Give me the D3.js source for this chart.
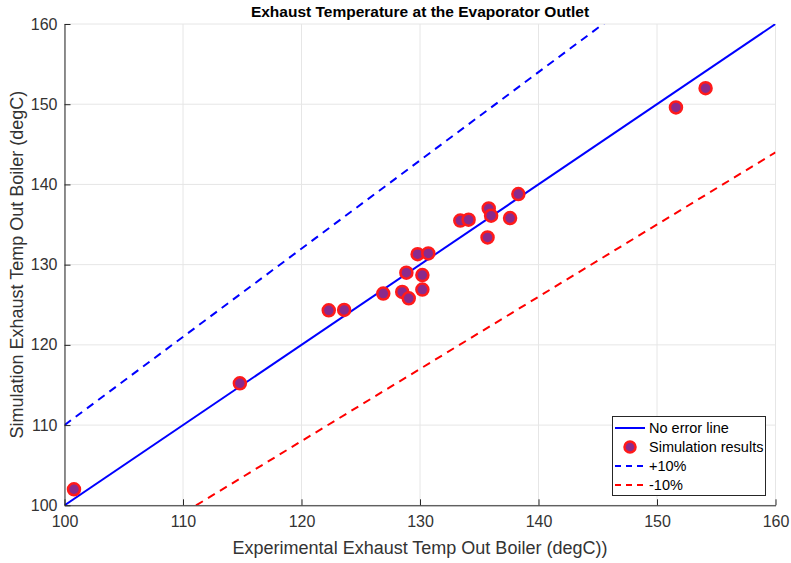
<!DOCTYPE html>
<html><head><meta charset="utf-8">
<script src="https://cdn.jsdelivr.net/npm/d3@7"></script>
<style>body{margin:0;background:#fff;font-family:Arial,"Liberation Sans",sans-serif;}</style>
</head><body>
<svg id="c" width="791" height="563"></svg>
<script>
const expTemp = [100.8,114.8,122.3,123.6,126.9,128.5,129.05,128.85,129.8,130.7,130.2,130.2,133.4,134.1,135.7,135.8,136.0,137.6,138.3,151.6,154.1];
const simTemp = [102.0,115.2,124.3,124.35,126.4,126.6,125.8,129.0,131.3,131.4,128.7,126.9,135.5,135.6,133.4,137.0,136.1,135.8,138.8,149.6,152.0];
const ticks = [100,110,120,130,140,150,160];
const lineDefs = [
  {name:"No error line", factor:1.0, color:"#0000ff", dash:null},
  {name:"+10%", factor:1.1, color:"#0000ff", dash:"8,6"},
  {name:"-10%", factor:0.9, color:"#ff0000", dash:"8,6"}
];
const svg = d3.select("#c");
const L=64.5, R=775.5, T=24, B=505.3;
const x = d3.scaleLinear().domain([100,160]).range([L,R]);
const y = d3.scaleLinear().domain([100,160]).range([B,T]);
const g = svg.append("g");
// grid
g.selectAll(".gx").data(ticks).enter().append("line")
 .attr("x1",d=>x(d)).attr("x2",d=>x(d)).attr("y1",T).attr("y2",B)
 .attr("stroke","#e6e6e6").attr("stroke-width",1);
g.selectAll(".gy").data(ticks).enter().append("line")
 .attr("y1",d=>y(d)).attr("y2",d=>y(d)).attr("x1",L).attr("x2",R)
 .attr("stroke","#e6e6e6").attr("stroke-width",1);
// clip
svg.append("clipPath").attr("id","clip").append("rect").attr("x",L).attr("y",T).attr("width",R-L).attr("height",B-T);
const lg = svg.append("g").attr("clip-path","url(#clip)");
lineDefs.forEach(l=>{
  const xs=[100,160];
  lg.append("path").attr("d",d3.line().x(d=>x(d)).y(d=>y(d*l.factor))(xs))
   .attr("stroke",l.color).attr("stroke-width",2).attr("fill","none")
   .attr("stroke-dasharray",l.dash);
});
// axes
const ax = svg.append("g").attr("transform",`translate(0,${B})`)
 .call(d3.axisBottom(x).tickValues(ticks).tickSizeInner(-6).tickSizeOuter(0).tickPadding(10));
const ay = svg.append("g").attr("transform",`translate(${L},0)`)
 .call(d3.axisLeft(y).tickValues(ticks).tickSizeInner(-6).tickSizeOuter(0).tickPadding(7));
[ax,ay].forEach(a=>{
  a.selectAll("path,line").attr("stroke","#262626");
  a.selectAll("text").attr("fill","#333").style("font-size","16px").style("font-family","Arial,'Liberation Sans',sans-serif");
});
// points
svg.append("g").selectAll("circle").data(expTemp.map((e,i)=>[e,simTemp[i]])).enter().append("circle")
 .attr("cx",d=>x(d[0])).attr("cy",d=>y(d[1])).attr("r",6)
 .attr("fill","#8a2a8c").attr("stroke","#ff1a1a").attr("stroke-width",2.5);
// title & labels
svg.append("text").attr("x",(L+R)/2).attr("y",17).attr("text-anchor","middle")
 .style("font-weight","bold").style("font-size","15.5px").attr("fill","#000")
 .text("Exhaust Temperature at the Evaporator Outlet");
svg.append("text").attr("x",(L+R)/2).attr("y",554).attr("text-anchor","middle")
 .style("font-size","18px").attr("fill","#333").text("Experimental Exhaust Temp Out Boiler (degC))");
svg.append("text").attr("transform",`translate(23,${(T+B)/2}) rotate(-90)`).attr("text-anchor","middle")
 .style("font-size","18px").attr("fill","#333").text("Simulation Exhaust Temp Out Boiler (degC)");
// legend
const leg = svg.append("g");
leg.append("rect").attr("x",612.5).attr("y",416.5).attr("width",153).attr("height",79)
 .attr("fill","#fff").attr("stroke","#262626").attr("stroke-width",1);
const items=[
  {name:lineDefs[0].name,type:"line",color:lineDefs[0].color,dash:null},
  {name:"Simulation results",type:"pt"},
  {name:lineDefs[1].name,type:"line",color:lineDefs[1].color,dash:"6,5"},
  {name:lineDefs[2].name,type:"line",color:lineDefs[2].color,dash:"6,5"}
];
const ly=[428,447,466,485];
items.forEach((it,i)=>{
  if(it.type==="line"){
    leg.append("line").attr("x1",615).attr("x2",645).attr("y1",ly[i]).attr("y2",ly[i])
     .attr("stroke",it.color).attr("stroke-width",2).attr("stroke-dasharray",it.dash);
  } else {
    leg.append("circle").attr("cx",630).attr("cy",ly[i]).attr("r",5.5)
     .attr("fill","#8a2a8c").attr("stroke","#ff1a1a").attr("stroke-width",2.5);
  }
  leg.append("text").attr("x",649).attr("y",ly[i]+5).style("font-size","14.5px").attr("fill","#000").text(it.name);
});
</script>
</body></html>
